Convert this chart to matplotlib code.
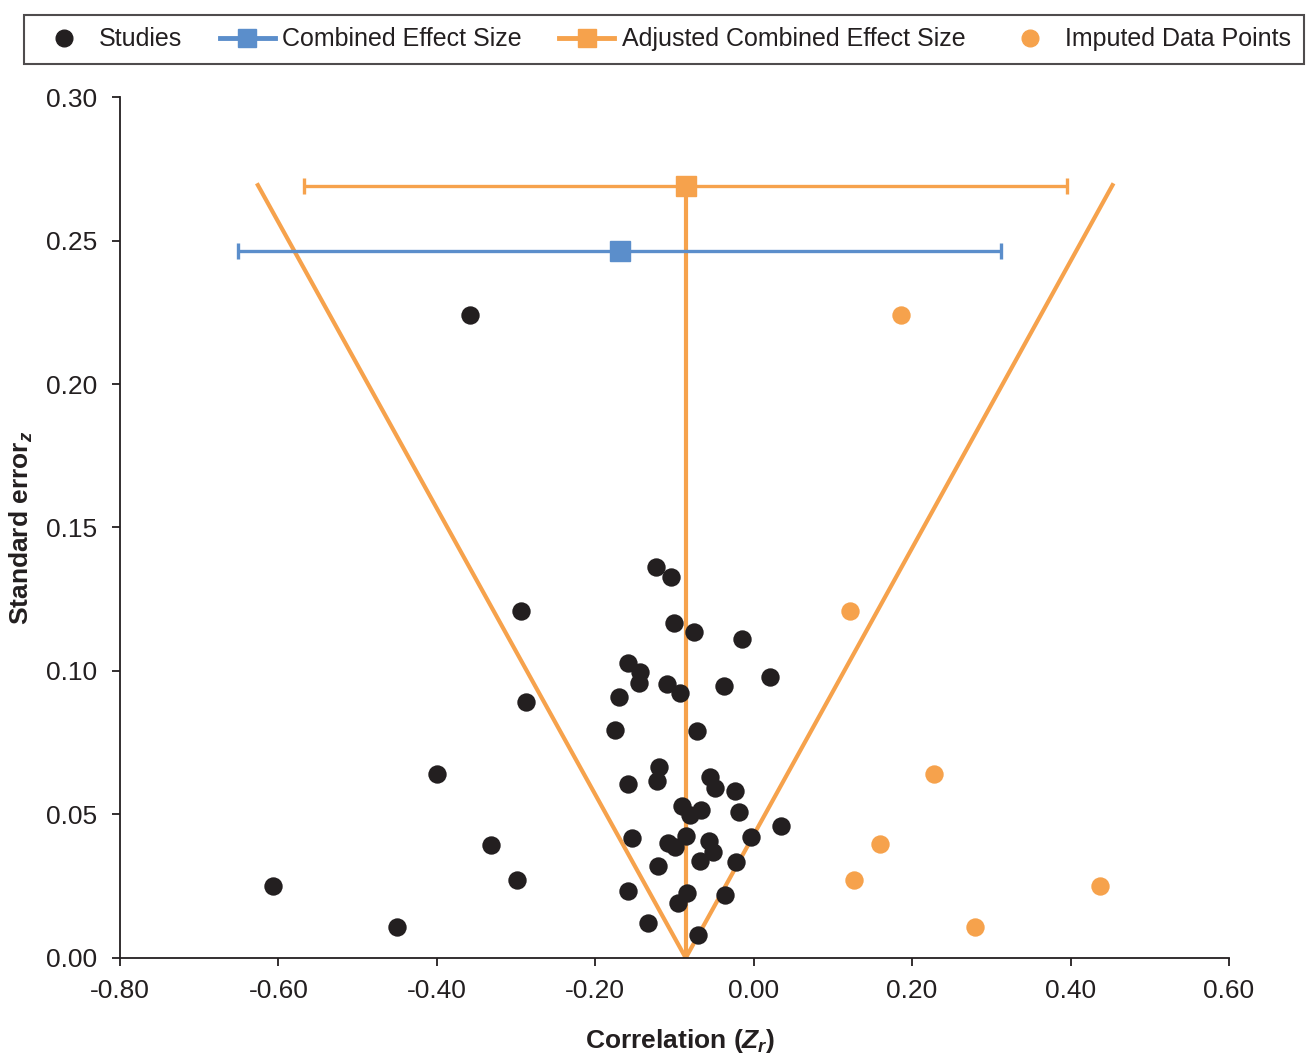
import matplotlib
matplotlib.use("Agg")
import matplotlib.pyplot as plt
from matplotlib.lines import Line2D
import numpy as np

plt.rcParams['font.family'] = ['Liberation Sans', 'DejaVu Sans']
plt.rcParams['mathtext.fontset'] = 'custom'
plt.rcParams['mathtext.rm'] = 'Liberation Sans:bold'
plt.rcParams['mathtext.it'] = 'Liberation Sans:bold:italic'
plt.rcParams['mathtext.bf'] = 'Liberation Sans:bold'

# observed studies (Zr, SE)
study_x = [-0.358, -0.607, -0.450, -0.400, -0.332, -0.299, -0.294, -0.288,
           -0.123, -0.104, -0.100, -0.075, -0.015, -0.159, -0.143, -0.145,
           -0.110, -0.093, -0.038, 0.020, -0.170, -0.175, -0.071, -0.120,
           -0.122, -0.159, -0.055, -0.049, -0.024, -0.090, -0.067, -0.081,
           -0.018, 0.035, -0.154, -0.085, -0.108, -0.099, -0.057, -0.051,
           -0.003, -0.121, -0.068, -0.022, -0.159, -0.084, -0.096, -0.036,
           -0.134, -0.070]
study_y = [0.224, 0.0251, 0.0108, 0.0641, 0.0394, 0.0272, 0.121, 0.0892,
           0.1363, 0.1326, 0.1166, 0.1136, 0.1113, 0.1028, 0.0995, 0.0959,
           0.0954, 0.0923, 0.0949, 0.0980, 0.0909, 0.0793, 0.0790, 0.0664,
           0.0616, 0.0607, 0.0632, 0.0591, 0.0583, 0.0530, 0.0517, 0.0498,
           0.0509, 0.0460, 0.0418, 0.0426, 0.0400, 0.0388, 0.0409, 0.0368,
           0.0420, 0.0321, 0.0338, 0.0336, 0.0232, 0.0225, 0.0193, 0.0218,
           0.0123, 0.0079]

# trim-and-fill imputed studies
imputed_x = [0.186, 0.121, 0.227, 0.159, 0.126, 0.437, 0.279]
imputed_y = [0.224, 0.121, 0.0641, 0.0397, 0.0272, 0.0251, 0.0108]

# combined effect sizes: estimate, lower, upper, plotted at SE height
combined = [-0.169, -0.651, 0.312, 0.2463]
adjusted = [-0.0858, -0.568, 0.395, 0.269]

# funnel: apex and top corners
funnel_x = [-0.626, -0.0858, 0.453]
funnel_y = [0.2693, 0.0, 0.2693]

xticks = [-0.8, -0.6, -0.4, -0.2, 0.0, 0.2, 0.4, 0.6]
yticks = [0.0, 0.05, 0.10, 0.15, 0.20, 0.25, 0.30]

blue = '#5b8ecb'
orange = '#f6a24c'
dark = '#231f20'

fig = plt.figure(figsize=(13.12, 10.57), dpi=100)
ax = fig.add_axes([0.0915, 0.0937, 0.8452, 0.8145])

ax.plot(funnel_x, funnel_y, color=orange, lw=3, zorder=2)
ax.plot([adjusted[0], adjusted[0]], [0, adjusted[3]], color=orange, lw=3, zorder=2)

ax.errorbar(combined[0], combined[3],
            xerr=[[combined[0] - combined[1]], [combined[2] - combined[0]]],
            fmt='s', color=blue, ms=14, elinewidth=2.4, capsize=6, capthick=2.4,
            mec=blue, zorder=3)
ax.errorbar(adjusted[0], adjusted[3],
            xerr=[[adjusted[0] - adjusted[1]], [adjusted[2] - adjusted[0]]],
            fmt='s', color=orange, ms=14, elinewidth=2.4, capsize=6, capthick=2.4,
            mec=orange, zorder=3)

ax.scatter(study_x, study_y, s=175, color=dark, zorder=4, linewidths=0)
ax.scatter(imputed_x, imputed_y, s=175, color=orange, zorder=4, linewidths=0)

ax.set_xlim(-0.8, 0.6)
ax.set_ylim(0, 0.3)
ax.set_xticks(xticks)
ax.set_yticks(yticks)
ax.set_xticklabels([f'{v:.2f}' for v in xticks])
ax.set_yticklabels([f'{v:.2f}' for v in yticks])
ax.tick_params(labelsize=19, length=5.5, width=1.3, color=dark, labelcolor=dark)
ax.tick_params(axis='x', pad=10)
ax.tick_params(axis='y', pad=11)
for s in ['top', 'right']:
    ax.spines[s].set_visible(False)
for s in ['left', 'bottom']:
    ax.spines[s].set_linewidth(1.3)
    ax.spines[s].set_color(dark)

ax.set_xlabel(r'Correlation ($Z_r$)', fontsize=19, fontweight='bold', color=dark)
ax.set_ylabel(r'Standard error$_z$', fontsize=19, fontweight='bold', color=dark)
ax.xaxis.set_label_coords(0.505, -0.08)
ax.yaxis.set_label_coords(-0.077, 0.5)

handles = [
    Line2D([], [], ls='none', marker='o', color=dark, ms=12),
    Line2D([], [], color=blue, lw=3.5, marker='s', ms=13),
    Line2D([], [], color=orange, lw=3.5, marker='s', ms=13),
    Line2D([], [], ls='none', marker='o', color=orange, ms=12),
]
labels = ['Studies', 'Combined Effect Size', 'Adjusted Combined Effect Size', 'Imputed Data Points']
leg = fig.legend(handles, labels, loc='upper center', bbox_to_anchor=(0.506, 0.986), ncol=4,
                 fontsize=18, frameon=True, fancybox=False, edgecolor=dark, borderaxespad=0,
                 handlelength=2.2, handletextpad=0.3, columnspacing=1.5, borderpad=0.5)
leg.get_frame().set_linewidth(1.5)
for t in leg.get_texts():
    t.set_color(dark)

fig.savefig('out.png', dpi=100)
